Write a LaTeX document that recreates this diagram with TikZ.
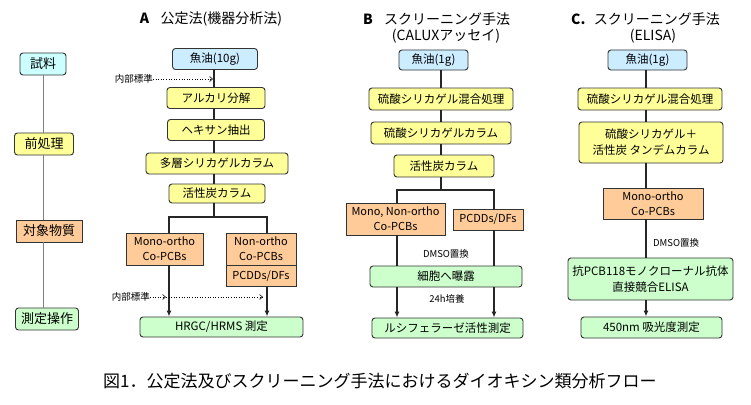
\documentclass[tikz,border=0pt]{standalone}
\usepackage{fontspec}
\setmainfont{Noto Sans CJK JP}
\usetikzlibrary{arrows.meta}
\definecolor{cyanf}{HTML}{CCFFFF}
\definecolor{bluef}{HTML}{CCECFF}
\definecolor{yelf}{HTML}{FFFF99}
\definecolor{oraf}{HTML}{FFCC99}
\definecolor{grnf}{HTML}{CCFFCC}
\definecolor{edge}{HTML}{333333}
\tikzset{
  box/.style={draw=edge, line width=0.9pt, rounded corners=3pt, inner sep=0pt, align=center, font=\fontsize{11.5}{13}\selectfont, minimum height=21pt},
  bluebox/.style={box, fill=bluef},
  yelbox/.style={box, fill=yelf},
  grnbox/.style={box, fill=grnf},
  orabox/.style={box, fill=oraf, rounded corners=0pt},
  leftbox/.style={box, font=\fontsize{13}{14}\selectfont, minimum height=22pt},
  link/.style={draw=black!85, line width=1.2pt},
  arr/.style={link, -{Latex[length=6pt,width=5pt]}},
  dotarr/.style={draw=black, line width=0.6pt, dotted, -{Straight Barb[length=3pt,width=5pt]}},
  small/.style={font=\fontsize{9.5}{11}\selectfont, inner sep=0pt},
  ttl/.style={font=\fontsize{14}{16}\selectfont, inner sep=0pt, align=center},
}
\begin{document}
\begin{tikzpicture}[x=1pt,y=-1pt]
\useasboundingbox (0,0) rectangle (751,404);
\fill[white] (0,0) rectangle (751,404);

% left column
\node[leftbox, fill=cyanf, minimum width=46pt] (l1) at (43,64) {試料};
\node[leftbox, fill=yelf, minimum width=59pt] (l2) at (44,144) {前処理};
\node[leftbox, fill=oraf, rounded corners=0pt, minimum width=66pt] (l3) at (49,231) {対象物質};
\node[leftbox, fill=grnf, minimum width=63pt] (l4) at (47,319) {測定操作};
\draw[draw=gray, line width=1pt] (l1.south -| 43,0) -- (l2.north -| 43,0);
\draw[draw=gray, line width=1pt] (l2.south -| 43,0) -- (l3.north -| 43,0);
\draw[draw=gray, line width=1pt] (l3.south -| 43,0) -- (l4.north -| 43,0);

% column A
\node[ttl] (ta) at (211,19) {\textbf{A}\hspace{0.8em}公定法(機器分析法)};
\node[bluebox, minimum width=85pt] (a1) at (215,59) {魚油(10g)};
\node[yelbox, minimum width=98pt] (a2) at (216,98) {アルカリ分解};
\node[yelbox, minimum width=97pt] (a3) at (216,130) {ヘキサン抽出};
\node[yelbox, minimum width=142pt] (a4) at (217,163.5) {多層シリカゲルカラム};
\node[yelbox, minimum width=96pt, minimum height=19pt] (a5) at (217,193.5) {活性炭カラム};
\node[orabox, minimum width=77pt, minimum height=32pt, font=\fontsize{11}{15}\selectfont] (am) at (164.5,249) {Mono-ortho\\Co-PCBs};
\node[orabox, minimum width=70pt, minimum height=32pt, font=\fontsize{11}{15}\selectfont] (an) at (261,249) {Non-ortho\\Co-PCBs};
\node[orabox, minimum width=70pt, minimum height=21pt, font=\fontsize{11}{13}\selectfont, anchor=north] (ap) at (an.south) {PCDDs/DFs};
\node[grnbox, minimum width=163pt, minimum height=20pt] (ah) at (221.5,327) {HRGC/HRMS 測定};
\draw[link] (a1.south -| 214,0) -- (a2.north -| 214,0);
\draw[link] (a2.south -| 214,0) -- (a3.north -| 214,0);
\draw[link] (a3.south -| 214,0) -- (a4.north -| 214,0);
\draw[link] (a4.south -| 214,0) -- (a5.north -| 214,0);
\coordinate (afork) at (214,217);
\coordinate (aforkl) at (169,217);
\coordinate (aforkr) at (267,217);
\draw[link] (a5.south -| 214,0) -- (afork);
\draw[link] (am.north -| aforkl) -- (aforkl) -- (aforkr) -- (an.north -| aforkr);
\draw[arr] (am.south -| aforkl) -- (ah.north -| aforkl);
\draw[arr] (ap.south -| aforkr) -- (ah.north -| aforkr);
\node[small, anchor=east] (is1) at (153,79) {内部標準};
\coordinate (is1t) at (213,79);
\draw[dotarr] (is1) -- (is1t);
\node[small, anchor=east] (is2) at (150,297) {内部標準};
\coordinate (is2m) at (166,297);
\coordinate (is2t) at (263,297);
\draw[dotarr] (is2) -- (is2m);
\draw[dotarr] (is2m) -- (is2t);

% column B
\node[ttl, anchor=west] (tb) at (363,19) {\textbf{B}\hspace{0.8em}スクリーニング手法};
\node[ttl] (tb2) at (446,36) {(CALUXアッセイ)};
\node[bluebox, minimum width=69pt, minimum height=20pt] (b1) at (433.5,60) {魚油(1g)};
\node[yelbox, minimum width=144pt, minimum height=22pt] (b2) at (441,99) {硫酸シリカゲル混合処理};
\node[yelbox, minimum width=140pt, minimum height=22pt] (b3) at (441,133) {硫酸シリカゲルカラム};
\node[yelbox, minimum width=100pt, minimum height=22pt] (b4) at (444,166) {活性炭カラム};
\node[orabox, minimum width=99pt, minimum height=32pt, font=\fontsize{11}{15}\selectfont] (bm) at (395.5,219) {Mono, Non-ortho\\Co-PCBs};
\node[orabox, minimum width=70pt, minimum height=21pt, font=\fontsize{11}{13}\selectfont] (bp) at (488,219.5) {PCDDs/DFs};
\node[grnbox, minimum width=152pt, minimum height=21pt] (bc) at (446,276.5) {細胞へ曝露};
\node[grnbox, minimum width=151pt, minimum height=20pt] (bl) at (447.5,328) {ルシフェラーゼ活性測定};
\draw[link] (b1.south -| 441,0) -- (b2.north -| 441,0);
\draw[link] (b2.south -| 441,0) -- (b3.north -| 441,0);
\draw[link] (b3.south -| 441,0) -- (b4.north -| 441,0);
\coordinate (bfork) at (441,190);
\coordinate (bforkl) at (397,190);
\coordinate (bforkr) at (494,190);
\draw[link] (b4.south -| 441,0) -- (bfork);
\draw[link] (bm.north -| bforkl) -- (bforkl) -- (bforkr) -- (bp.north -| bforkr);
\draw[link] (bm.south -| bforkl) -- (bc.north -| bforkl);
\draw[link] (bp.south -| bforkr) -- (bc.north -| bforkr);
\draw[arr] (bc.south -| bforkl) -- (bl.north -| bforkl);
\draw[arr] (bc.south -| bforkr) -- (bl.north -| bforkr);
\node[small] (bd) at (446,254) {DMSO置換};
\node[small] (bh) at (447,299) {24h培養};

% column C
\node[ttl, anchor=west] (tc) at (571,19) {\textbf{C.}\hspace{0.6em}スクリーニング手法};
\node[ttl] (tc2) at (653,36) {(ELISA)};
\node[bluebox, minimum width=79pt, minimum height=20pt] (c1) at (647.5,60) {魚油(1g)};
\node[yelbox, minimum width=144pt, minimum height=22pt] (c2) at (650,99) {硫酸シリカゲル混合処理};
\node[yelbox, minimum width=144pt, minimum height=41pt, font=\fontsize{11.5}{16}\selectfont] (c3) at (651,142.5) {硫酸シリカゲル＋\\活性炭 タンデムカラム};
\node[orabox, minimum width=100pt, minimum height=31pt, font=\fontsize{11}{15}\selectfont] (cm) at (653,203.5) {Mono-ortho\\Co-PCBs};
\node[grnbox, minimum width=165pt, minimum height=42pt, font=\fontsize{11.5}{16}\selectfont] (ce) at (650.5,279) {抗PCB118モノクローナル抗体\\直接競合ELISA};
\node[grnbox, minimum width=141pt, minimum height=21pt] (ca) at (651.5,327.5) {450nm 吸光度測定};
\draw[link] (c1.south -| 646,0) -- (c2.north -| 646,0);
\draw[link] (c2.south -| 646,0) -- (c3.north -| 646,0);
\draw[link] (c3.south -| 646,0) -- (cm.north -| 646,0);
\draw[link] (cm.south -| 646,0) -- (ce.north -| 646,0);
\draw[arr] (ce.south -| 646,0) -- (ca.north -| 646,0);
\node[small, anchor=west] (cd) at (653,243) {DMSO置換};

% caption
\node[font=\fontsize{17}{19}\selectfont, inner sep=0pt, anchor=west] (cap) at (103,381) {図1．公定法及びスクリーニング手法におけるダイオキシン類分析フロー};
\end{tikzpicture}
\end{document}
